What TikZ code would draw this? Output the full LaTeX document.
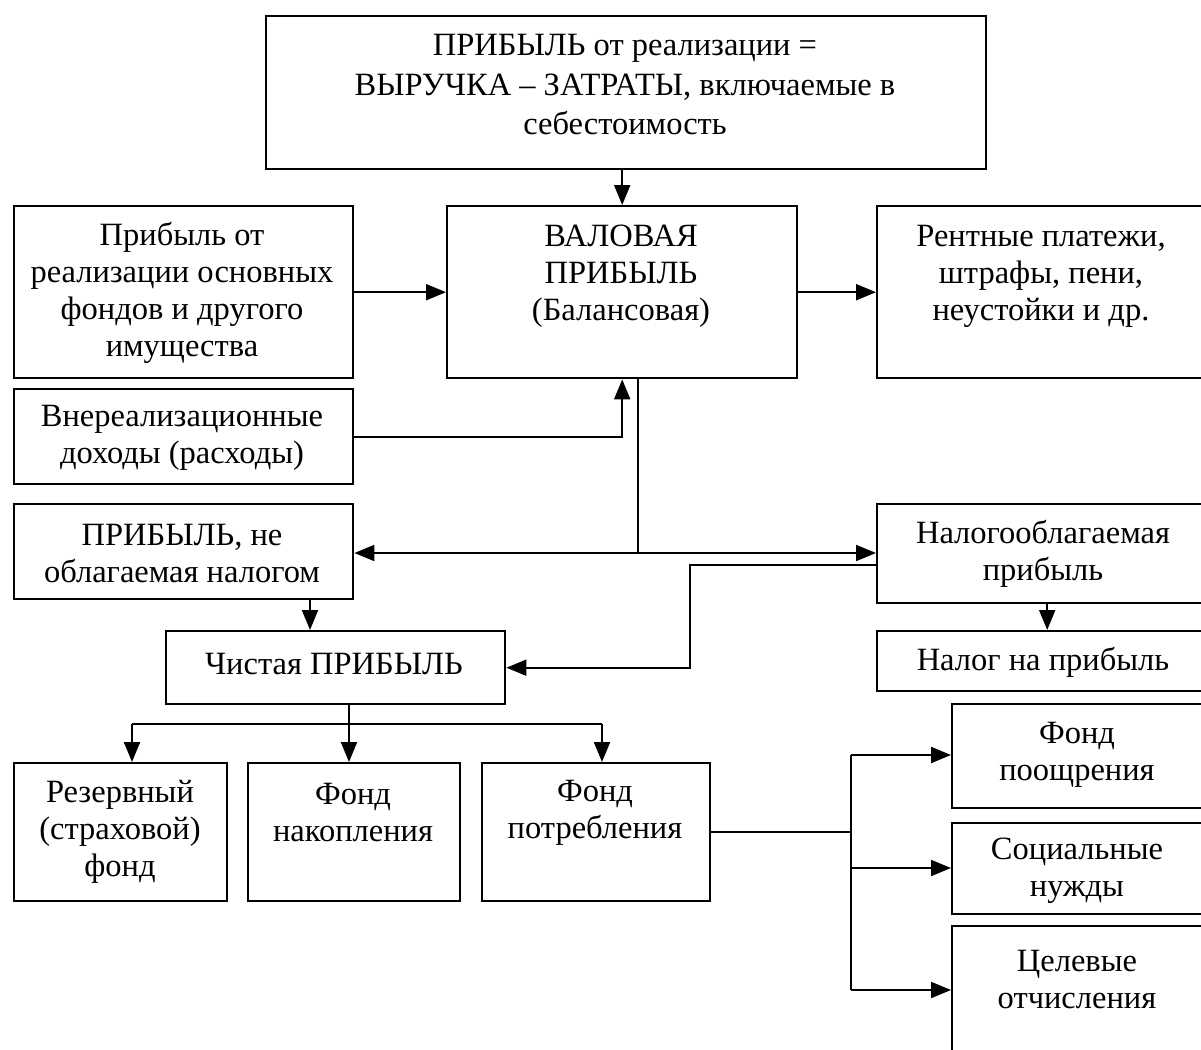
\documentclass[tikz,border=0pt]{standalone}
\usepackage{fontspec}
\setmainfont{Liberation Serif}
\usetikzlibrary{arrows.meta,calc}
\begin{document}
\begin{tikzpicture}[x=1pt,y=-1pt,
  box/.style={draw, line width=2.4pt, inner sep=0pt, anchor=north west},
  txt/.style={font=\fontsize{32.5}{37}\selectfont, align=center, inner sep=0pt},
  conn/.style={line width=2pt},
  arr/.style={conn, -{Triangle[length=20pt,width=16pt]}}]
\clip (0,0) rectangle (1201,1049);
\fill[white] (0,0) rectangle (1201,1049);
% boxes
\node[box, minimum width=720pt, minimum height=153pt] (top) at (265,15) {};
\node[box, minimum width=339pt, minimum height=172pt] (l1) at (13,205) {};
\node[box, minimum width=350pt, minimum height=172pt] (val) at (446,205) {};
\node[box, minimum width=340pt, minimum height=172pt] (r1) at (876,205) {};
\node[box, minimum width=339pt, minimum height=95pt] (vn) at (13,388) {};
\node[box, minimum width=339pt, minimum height=95pt] (no) at (13,503) {};
\node[box, minimum width=340pt, minimum height=99pt] (nal) at (876,503) {};
\node[box, minimum width=339pt, minimum height=73pt] (ch) at (165,630) {};
\node[box, minimum width=340pt, minimum height=60pt] (nalog) at (876,630) {};
\node[box, minimum width=213pt, minimum height=138pt] (rez) at (13,762) {};
\node[box, minimum width=212pt, minimum height=138pt] (nak) at (247,762) {};
\node[box, minimum width=228pt, minimum height=138pt] (pot) at (481,762) {};
\node[box, minimum width=265pt, minimum height=104pt] (po) at (951,703) {};
\node[box, minimum width=265pt, minimum height=91pt] (so) at (951,822) {};
\node[box, minimum width=265pt, minimum height=130pt] (ts) at (951,925) {};
% texts
\node[txt, font=\fontsize{32.5}{39.5}\selectfont] (ttop) at (625,85) {ПРИБЫЛЬ от реализации =\\ВЫРУЧКА – ЗАТРАТЫ, включаемые в\\себестоимость};
\node[txt] (tl1) at (182,293) {Прибыль от\\реализации основных\\фондов и другого\\имущества};
\node[txt] (tval) at (621,276) {ВАЛОВАЯ\\ПРИБЫЛЬ\\(Балансовая)};
\node[txt] (tr1) at (1041,276) {Рентные платежи,\\штрафы, пени,\\неустойки и др.};
\node[txt] (tvn) at (182,438) {Внереализационные\\доходы (расходы)};
\node[txt] (tno) at (182,554) {ПРИБЫЛЬ, не\\облагаемая налогом};
\node[txt] (tnal) at (1043,554) {Налогооблагаемая\\прибыль};
\node[txt] (tch) at (334,664) {Чистая ПРИБЫЛЬ};
\node[txt] (tnalog) at (1043,662) {Налог на прибыль};
\node[txt] (trez) at (120,832) {Резервный\\(страховой)\\фонд};
\node[txt] (tnak) at (353,813) {Фонд\\накопления};
\node[txt] (tpot) at (595,813) {Фонд\\потребления};
\node[txt] (tpo) at (1077,755) {Фонд\\поощрения};
\node[txt] (tso) at (1077,871) {Социальные\\нужды};
\node[txt] (tts) at (1077,980) {Целевые\\отчисления};
% connectors
\draw[arr] (val.north |- top.south) -- (val.north);
\draw[arr] (l1.east) -- (l1.east -| val.west);
\draw[arr] (val.east) -- (val.east -| r1.west);
\draw[arr] (vn.east) -| (val.south);
\coordinate (j) at (638,553);
\draw[conn] (val.south -| j) -- (j);
\draw[arr] (j) -- (j -| no.east);
\draw[arr] (j) -- (j -| nal.west);
\coordinate (k) at (690,565);
\draw[arr] (k -| nal.west) -- (k) |- (ch.east);
\coordinate (m) at (310,598);
\draw[arr] (m |- no.south) -- (m |- ch.north);
\draw[arr] (nal.south) -- (nalog.north);
\coordinate (a1) at (132,724);
\coordinate (a2) at (349,724);
\coordinate (a3) at (602,724);
\draw[conn] (a2 |- ch.south) -- (a2);
\draw[conn] (a1) -- (a3);
\draw[arr] (a1) -- (a1 |- rez.north);
\draw[arr] (a2) -- (a2 |- nak.north);
\draw[arr] (a3) -- (a3 |- pot.north);
\coordinate (v1) at (851,755);
\coordinate (v2) at (851,868);
\coordinate (v3) at (851,990);
\draw[conn] (pot.east) -- (pot.east -| v1);
\draw[conn] (v1) -- (v3);
\draw[arr] (v1) -- (v1 -| po.west);
\draw[arr] (v2) -- (v2 -| so.west);
\draw[arr] (v3) -- (v3 -| ts.west);
\end{tikzpicture}
\end{document}
